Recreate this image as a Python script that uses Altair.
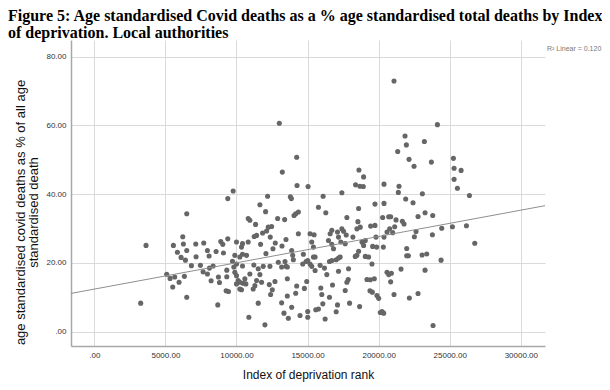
import altair as alt
import pandas as pd

# Index of deprivation rank (x) and covid deaths as % of all deaths (y)
rank = [
    9388, 6501, 3638, 3262, 6220, 5562, 6266, 6501, 5844, 6102, 6407, 7135, 7698, 7956, 8074, 7158,
    8567, 8895, 9036, 9388, 9083, 6830, 7463, 8097, 8355, 7651, 7956, 5093, 5328, 5656, 5961, 5515,
    6337, 6501, 8684, 8215, 8731, 8802, 9318, 9318, 9271, 9435,
    13012, 14235, 13224, 14259, 15035, 9765, 13788, 13859, 12188, 11647, 12047, 16094, 15765, 16282,
    17412, 18612, 18941, 18376, 18682, 18918, 20376, 18588, 19741, 20376, 17765, 14165, 14353, 14047,
    12894, 13388, 10824, 10941, 11341, 12235, 12470, 12118, 11835, 11412, 11247, 12376, 14353, 13482,
    13200, 12729, 12565, 11694, 12071, 10000, 10424, 10353, 10824, 10424, 10706, 10235, 9882, 9718,
    10000, 9812, 10424, 9882, 10000, 11224, 11529, 11882, 12353, 12941, 13176, 13412, 13482, 13576,
    13882, 13953, 14000, 14706, 14659, 14894, 15176, 15012, 15294, 15412, 15529, 15176, 15459, 15294,
    15412, 15529, 15882, 16188, 16353, 16541, 16706, 17012, 17176, 17294, 17176, 17882, 16471, 16588,
    16706, 17106, 17412, 17529, 17718, 17176, 17341, 16706, 16824, 17647, 18188, 18471, 18706, 18541,
    19435, 19741, 18824, 18941, 19059, 19812, 19576, 19859, 20329, 20376, 20706, 20282, 20776, 20588,
    18471, 18353, 18588, 19059, 19294, 19529, 20588, 20706, 19176, 19412, 19694, 17859, 17765, 17647,
    19388, 19553, 19882, 20000, 20118, 20235, 20353, 18659, 17953, 17106, 17012, 15929, 16000, 16541,
    16753, 16071, 16235, 15576, 15765, 15012, 15012, 14471, 14235, 14165, 13882, 13647, 13341, 13176,
    13576, 13576, 14941, 14776, 12000, 10871, 11529, 12400, 12518, 12306, 12706, 11765, 11647, 10588,
    10659, 10471, 10118, 10235, 10000, 10235, 10353, 11294, 11176, 10941, 11412,
    21080, 24132, 21855, 21949, 23216, 21339, 22137, 22489, 23709, 25258, 25305, 25798, 25305, 25540,
    26385, 21432, 21385, 23075, 21902, 22418, 20845, 21221, 21667, 21785, 22770, 23263, 23803, 21127,
    20986, 22630, 22513, 23780, 24437, 25188, 26174, 26760, 21972, 21972, 22090, 23052, 23380, 24390,
    21573, 23263, 20892, 20845, 21080, 22160, 22770, 23826,
]
covid_pct = [
    38.7, 34.3, 25.1, 8.3, 27.6, 25.1, 25.5, 23.6, 23.1, 21.6, 20.8, 25.5, 25.8, 23.6, 22.0, 21.8,
    23.3, 26.2, 25.4, 27.0, 22.9, 19.2, 19.3, 18.5, 19.1, 17.4, 16.8, 16.7, 15.5, 15.9, 14.4, 13.0,
    16.1, 10.0, 7.8, 14.8, 15.9, 14.3, 16.0, 17.9, 11.9, 11.7,
    60.6, 50.7, 46.4, 42.5, 42.2, 40.9, 39.2, 38.7, 39.4, 36.9, 34.9, 39.4, 36.2, 34.6,
    40.4, 47.0, 45.0, 42.7, 42.3, 42.2, 42.9, 35.8, 37.1, 37.3, 33.2, 34.3, 34.8, 33.8,
    32.9, 32.6, 32.9, 32.4, 31.2, 30.4, 30.6, 29.3, 28.7, 28.0, 27.7, 27.5, 28.5, 26.8,
    24.9, 25.8, 24.1, 25.4, 22.7, 26.1, 25.6, 24.6, 26.1, 22.5, 22.2, 21.7, 22.2, 20.5,
    19.7, 18.8, 19.1, 17.3, 16.3, 19.4, 18.3, 19.0, 19.0, 20.2, 18.8, 20.4, 19.0, 18.8,
    23.6, 22.2, 20.9, 22.5, 19.7, 20.4, 19.7, 20.7, 19.0, 21.7, 21.7, 28.5, 28.2, 26.1,
    24.6, 17.8, 19.3, 18.5, 16.6, 20.4, 20.7, 20.9, 21.4, 21.7, 17.6, 18.3, 26.5, 28.5,
    29.5, 29.0, 29.9, 29.2, 28.1, 27.5, 26.1, 25.4, 24.1, 25.6, 27.5, 29.9, 30.4, 32.0,
    30.7, 30.9, 26.1, 25.1, 26.5, 27.5, 24.8, 24.6, 24.6, 27.5, 33.4, 33.2, 29.9, 29.0,
    22.2, 21.9, 23.4, 21.9, 21.7, 19.7, 17.3, 16.6, 15.2, 15.1, 15.4, 15.2, 14.4, 12.0,
    11.9, 11.5, 10.5, 9.7, 5.6, 5.9, 5.4, 7.3, 8.3, 7.8, 5.8, 12.7, 10.8, 10.0,
    13.6, 8.1, 3.7, 6.4, 6.6, 5.9, 4.2, 4.7, 13.3, 11.2, 7.1, 3.9, 5.4, 8.4,
    10.4, 15.4, 14.6, 12.6, 2.0, 4.2, 8.3, 10.8, 12.2, 13.7, 14.6, 14.4, 16.6, 15.4,
    13.9, 14.1, 14.9, 14.4, 13.9, 12.4, 12.2, 13.4, 12.4, 16.8, 14.9,
    72.9, 60.2, 56.9, 54.3, 55.3, 52.4, 50.1, 48.1, 49.3, 50.4, 47.5, 46.9, 44.3, 41.7,
    39.6, 42.3, 40.5, 40.1, 38.6, 37.5, 33.4, 32.5, 32.1, 31.3, 33.5, 34.6, 33.8, 30.5,
    28.8, 29.1, 27.6, 28.2, 30.1, 30.5, 30.8, 25.7, 24.2, 22.1, 22.1, 22.3, 22.6, 20.8,
    18.2, 17.9, 17.0, 14.5, 10.8, 9.8, 11.1, 1.8,
]
r_squared = 0.120

title_lines = [
    "Figure 5: Age standardised Covid deaths as a % age standardised total deaths by Index",
    "of deprivation. Local authorities",
]
x_title = "Index of deprivation rank"
y_title = ["age standardised covid deaths as % of all age", "standardised death"]
x_ticks = [0, 5000, 10000, 15000, 20000, 25000, 30000]
y_ticks = [0, 20, 40, 60, 80]
x_domain = [-1640, 31700]
y_domain = [-4.15, 84.8]

df = pd.DataFrame({"rank": rank, "pct": covid_pct})

label_expr = "datum.value == 0 ? '.00' : format(datum.value, '.2f')"

x_enc = alt.X(
    "rank:Q",
    scale=alt.Scale(domain=x_domain, nice=False, zero=False),
    axis=alt.Axis(values=x_ticks, labelExpr=label_expr, title=x_title, titlePadding=10.5,
                  titleFontSize=12),
)
y_enc = alt.Y(
    "pct:Q",
    scale=alt.Scale(domain=y_domain, nice=False, zero=False),
    axis=alt.Axis(values=y_ticks, labelExpr=label_expr, title=y_title, titlePadding=5, titleY=172,
                  titleFontSize=13, titleLineHeight=13),
)

points = alt.Chart(df).mark_circle(size=26, color="#666666", opacity=1).encode(x=x_enc, y=y_enc)

fit = (
    alt.Chart(df)
    .transform_regression("rank", "pct", extent=x_domain)
    .mark_line(color="#8f8f8f", strokeWidth=1, clip=True)
    .encode(x="rank:Q", y="pct:Q")
)

r2_df = pd.DataFrame({"label": [f"R\u00b2 Linear = {r_squared:.3f}"]})
r2_text = (
    alt.Chart(r2_df)
    .mark_text(align="left", baseline="middle", fontSize=7, color="#777777", font="Liberation Sans")
    .encode(x=alt.value(476), y=alt.value(9), text="label:N")
)

chart = (
    alt.layer(points, fit, r2_text)
    .properties(
        width=474,
        height=306,
        padding={"left": 63, "top": 32, "right": 57, "bottom": 36},
        autosize=alt.AutoSizeParams(type="none"),
        title=alt.TitleParams(
            text=title_lines,
            anchor="start",
            frame="group",
            dx=-63,
            dy=3,
            offset=2,
            font="Liberation Serif",
            fontSize=16,
            fontWeight="bold",
            color="black",
            lineHeight=17,
        ),
    )
    .configure_view(strokeWidth=0)
    .configure_axis(
        grid=True,
        gridColor="#dadada",
        gridWidth=1,
        ticks=False,
        domainColor="#a8a8a8",
        domainWidth=1.5,
        labelFont="Liberation Sans",
        labelFontSize=8,
        labelColor="#333333",
        labelPadding=5,
        titleFont="Liberation Sans",
        titleFontWeight="normal",
        titleColor="#111111",
    )
)

chart.save("out.html", embed_options={"renderer": "svg", "actions": False})
